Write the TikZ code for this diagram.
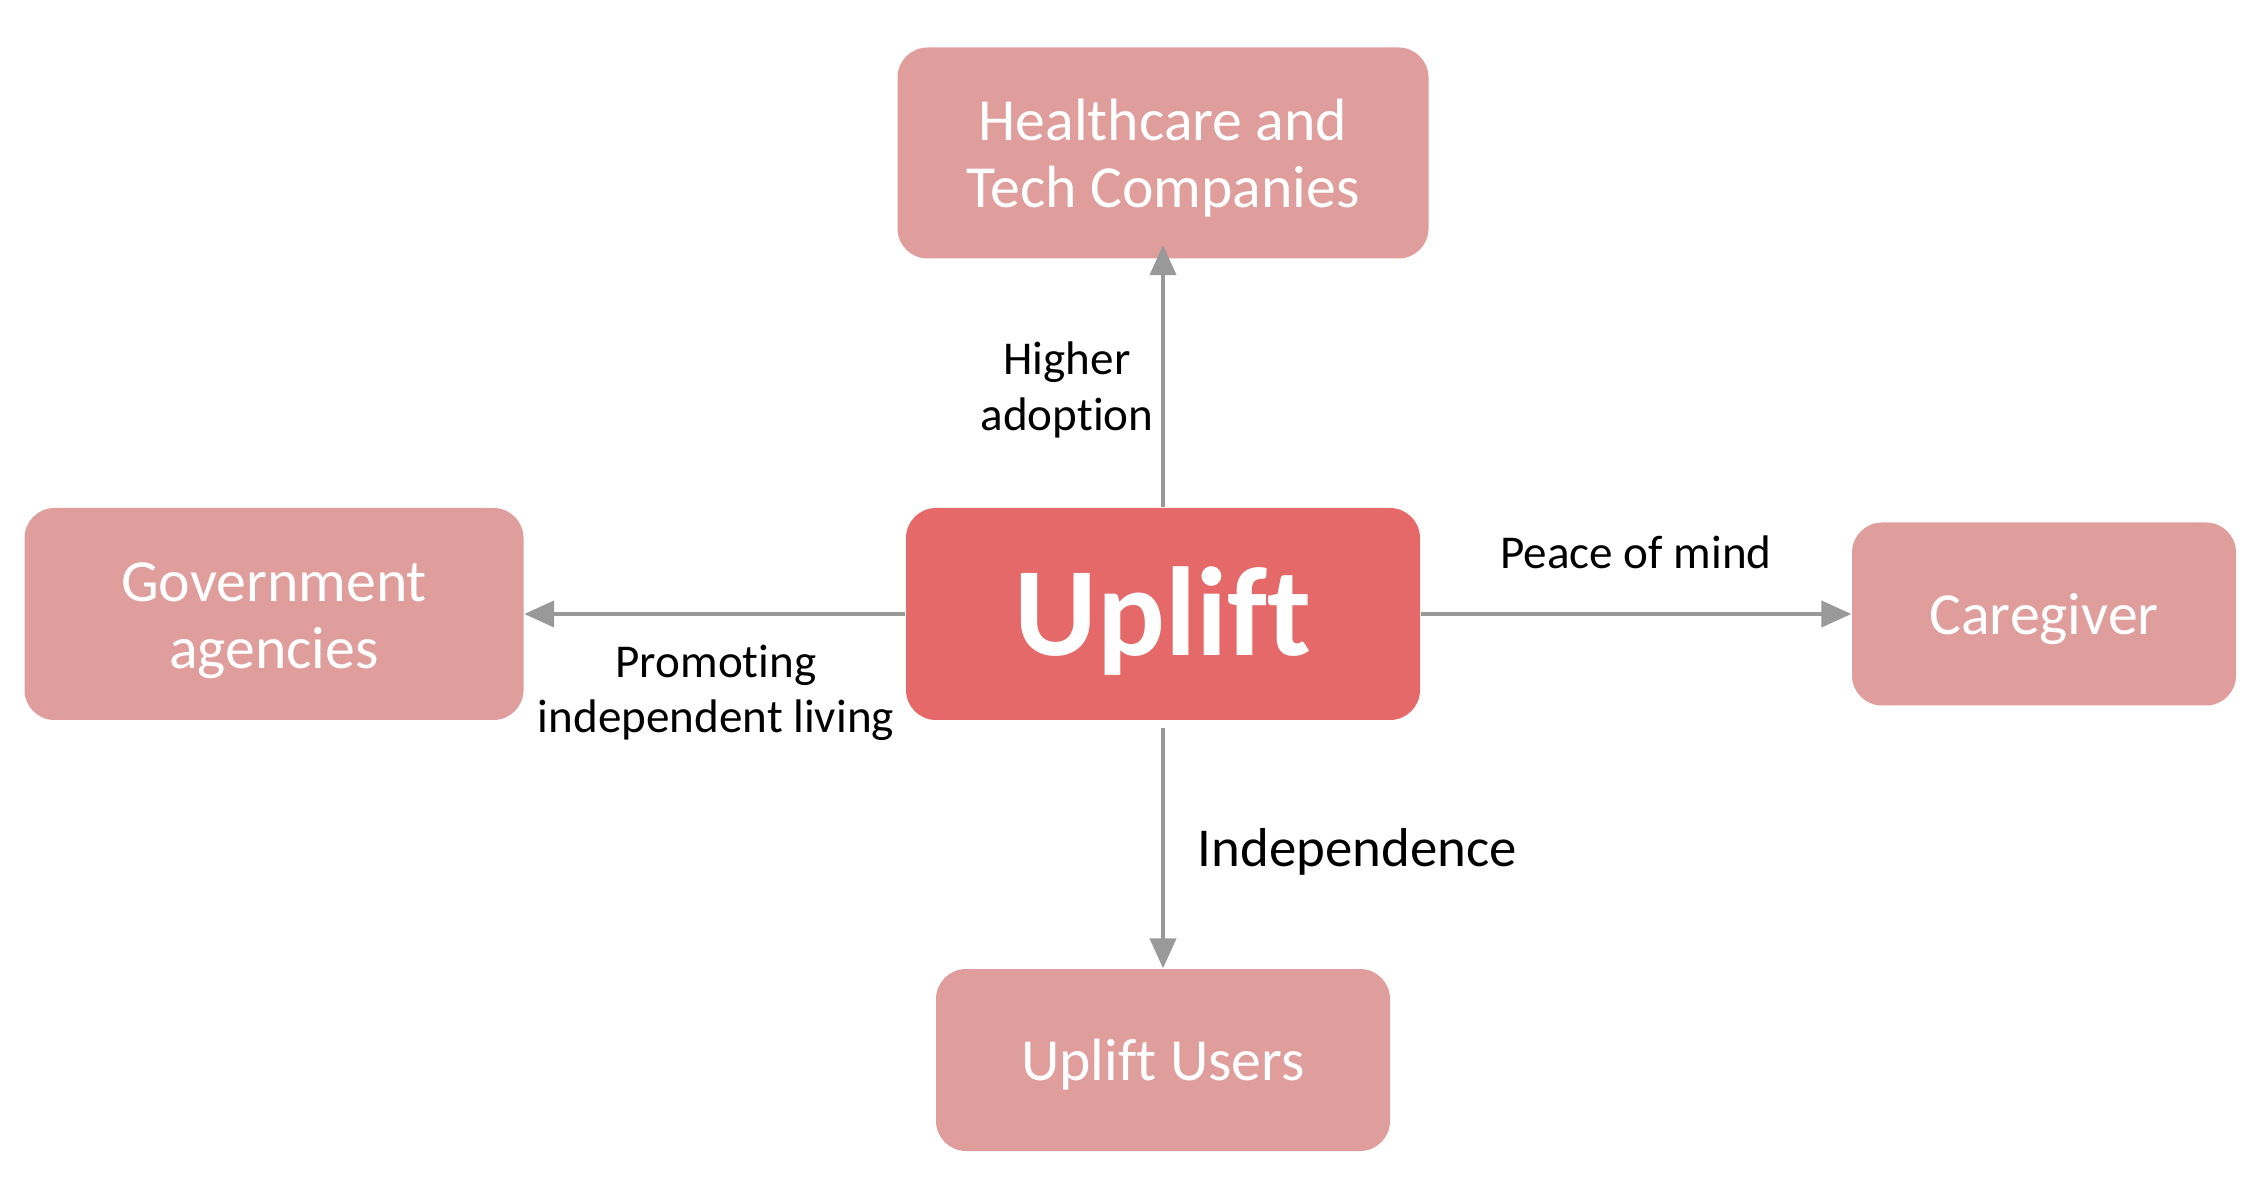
\documentclass[tikz,border=0pt]{standalone}
\usepackage{fontspec}
\setmainfont{Carlito}[Ligatures={NoCommon,NoRare,NoDiscretionary}]
\usepackage{tikz}
\usetikzlibrary{arrows.meta}

\definecolor{boxpink}{HTML}{DF9D9C}
\definecolor{hubred}{HTML}{E46968}
\definecolor{linkgray}{HTML}{999999}

\tikzset{
  party/.style={fill=boxpink, rounded corners=0.3cm, text=white, align=center,
                font=\fontsize{17}{18.9}\selectfont, inner sep=0pt},
  oneline/.style={text height=15.8pt, text depth=4pt},
  twoline/.style={text height=34.8pt, text depth=4pt},
  link/.style={draw=linkgray, line width=1.2pt, -{Triangle[length=3mm,width=2.6mm]}},
  tag/.style={align=center, font=\fontsize{13.4}{15.8}\selectfont, inner sep=0pt}
}

\begin{document}
\begin{tikzpicture}
        \useasboundingbox (0,0) rectangle (22.58,11.92);
        \node [fill=hubred, rounded corners=0.3cm, text=white, inner sep=0pt,
               minimum width=5.14cm, minimum height=2.12cm, text height=29.4pt, text depth=6pt,
               font=\fontsize{36}{43}\selectfont\bfseries] (hub) at (11.63,5.78) {Uplift}; %centre
        \node [party, twoline, minimum width=5.31cm, minimum height=2.11cm] (tech)  at (11.63,10.39) {Healthcare and\\Tech Companies};
        \node [party, twoline, minimum width=4.99cm, minimum height=2.12cm] (gov)   at (2.74,5.78)   {Government\\agencies};
        \node [party, oneline, minimum width=3.84cm, minimum height=1.83cm] (care)  at (20.44,5.78)  {Caregiver};
        \node [party, oneline, minimum width=4.54cm, minimum height=1.82cm] (users) at (11.63,1.32)  {Uplift Users};

        \draw [link, shorten >=-0.14cm] (hub) -- (tech); %up
        \draw [link] (hub) -- (gov);                      %left
        \draw [link] (hub) -- (care);                     %right
        \draw [link, shorten <=2pt] (hub) -- (users);     %down

        \node [tag] (adopt)   at (10.67,8.02) {Higher\\adoption};
        \node [tag] (peace)   at (16.36,6.40) {Peace of mind};
        \node [tag] (promote) at (7.16,4.99)  {Promoting\\independent living};
        \node [tag, anchor=west, font=\fontsize{15.6}{18}\selectfont] (indep) at (11.97,3.40) {Independence};
      \end{tikzpicture}
\end{document}
